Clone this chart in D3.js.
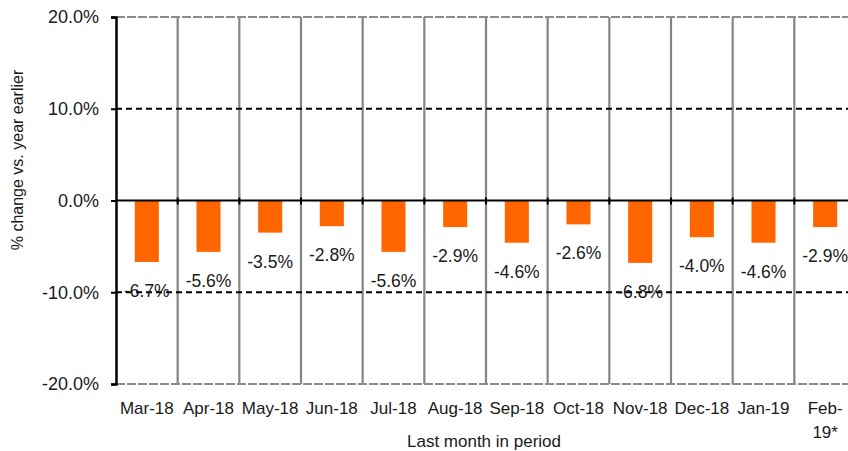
<!DOCTYPE html>
<html>
<head>
<meta charset="utf-8">
<script src="https://cdn.jsdelivr.net/npm/d3@7"></script>
<style>
  html, body { margin: 0; padding: 0; background: #fff; }
  svg { display: block; font-family: "Liberation Sans", Arial, sans-serif; }
</style>
</head>
<body>
<svg id="chart" width="848" height="451"></svg>
<script>
const categories = ["Mar-18","Apr-18","May-18","Jun-18","Jul-18","Aug-18","Sep-18","Oct-18","Nov-18","Dec-18","Jan-19","Feb-19*"];
const categoryLines = [["Mar-18"],["Apr-18"],["May-18"],["Jun-18"],["Jul-18"],["Aug-18"],["Sep-18"],["Oct-18"],["Nov-18"],["Dec-18"],["Jan-19"],["Feb-","19*"]];
const values = [-6.7, -5.6, -3.5, -2.8, -5.6, -2.9, -4.6, -2.6, -6.8, -4.0, -4.6, -2.9];
const yTicks = [-20, -10, 0, 10, 20];
const yTitle = "% change vs. year earlier";
const xTitle = "Last month in period";

const svg = d3.select("#chart");
const pLeft = 116, pRight = 856, pTop = 17, pBottom = 384;

const x = d3.scaleBand().domain(categories).range([pLeft, pRight]).padding(0);
const y = d3.scaleLinear().domain([-20, 20]).range([pBottom, pTop]);
const barW = x.bandwidth() * 0.39;
const fmt = v => v.toFixed(1) + "%";

// vertical category separators (gray)
svg.append("g").selectAll("line")
  .data(categories)
  .join("line")
  .attr("x1", d => x(d) + x.bandwidth())
  .attr("x2", d => x(d) + x.bandwidth())
  .attr("y1", pTop).attr("y2", pBottom)
  .attr("stroke", "#858585").attr("stroke-width", 2.2);

// top and bottom gray borders
svg.append("line").attr("x1", pLeft).attr("x2", pRight).attr("y1", y(20)).attr("y2", y(20))
  .attr("stroke", "#8c8c8c").attr("stroke-width", 2).attr("stroke-dasharray", "9,2");
svg.append("line").attr("x1", pLeft).attr("x2", pRight).attr("y1", y(-20)).attr("y2", y(-20))
  .attr("stroke", "#8c8c8c").attr("stroke-width", 2).attr("stroke-dasharray", "9,2");

// dashed gridlines at +/-10
svg.append("g").selectAll("line")
  .data([10, -10]).join("line")
  .attr("x1", pLeft).attr("x2", pRight)
  .attr("y1", d => y(d)).attr("y2", d => y(d))
  .attr("stroke", "#000").attr("stroke-width", 2).attr("stroke-dasharray", "6,4");

// bars
svg.append("g").selectAll("rect")
  .data(values).join("rect")
  .attr("x", (d, i) => x(categories[i]) + (x.bandwidth() - barW) / 2)
  .attr("y", d => y(Math.max(0, d)))
  .attr("width", barW)
  .attr("height", d => Math.abs(y(d) - y(0)))
  .attr("fill", "#ff6600");

// zero line
svg.append("line").attr("x1", pLeft).attr("x2", pRight).attr("y1", y(0)).attr("y2", y(0))
  .attr("stroke", "#000").attr("stroke-width", 2);
// ticks on zero line at category boundaries
svg.append("g").selectAll("line")
  .data(categories.slice(1)).join("line")
  .attr("x1", d => x(d)).attr("x2", d => x(d))
  .attr("y1", y(0) - 3).attr("y2", y(0) + 4)
  .attr("stroke", "#000").attr("stroke-width", 2);

// y axis
const yAxis = d3.axisLeft(y).tickValues(yTicks).tickFormat(fmt).tickSize(5).tickPadding(12);
const gy = svg.append("g").attr("transform", `translate(${pLeft},0)`).call(yAxis);
gy.select(".domain").attr("stroke", "#000").attr("stroke-width", 2.5);
gy.selectAll(".tick line").attr("stroke", "#000").attr("stroke-width", 2);
gy.selectAll(".tick text").attr("font-size", 18).attr("fill", "#1a1a1a")
  .attr("font-family", "'Liberation Sans', Arial, sans-serif");

// data labels
svg.append("g").selectAll("text")
  .data(values).join("text")
  .attr("x", (d, i) => x(categories[i]) + x.bandwidth() / 2)
  .attr("y", d => y(d) + 35)
  .attr("text-anchor", "middle")
  .attr("font-size", 17.5)
  .attr("fill", "#1a1a1a")
  .text(fmt);

// x labels
const xl = svg.append("g").selectAll("text")
  .data(categoryLines).join("text")
  .attr("x", (d, i) => x(categories[i]) + x.bandwidth() / 2)
  .attr("y", 414)
  .attr("text-anchor", "middle")
  .attr("font-size", 17)
  .attr("fill", "#1a1a1a");
xl.selectAll("tspan").data(d => d).join("tspan")
  .attr("x", function() { return d3.select(this.parentNode).attr("x"); })
  .attr("dy", (d, i) => i === 0 ? 0 : 24)
  .text(d => d);

// axis titles
svg.append("text")
  .attr("transform", "translate(23,160) rotate(-90)")
  .attr("text-anchor", "middle")
  .attr("font-size", 16)
  .attr("fill", "#1a1a1a")
  .text(yTitle);
svg.append("text")
  .attr("x", 484).attr("y", 447)
  .attr("text-anchor", "middle")
  .attr("font-size", 17)
  .attr("fill", "#1a1a1a")
  .text(xTitle);
</script>
</body>
</html>
